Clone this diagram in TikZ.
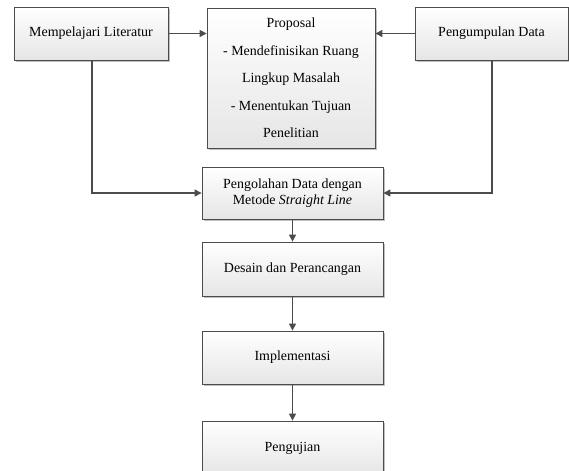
\documentclass[tikz,border=0pt]{standalone}
\usepackage{fontspec}
\setmainfont{Liberation Serif}
\usetikzlibrary{arrows.meta,shadows}
\tikzset{
  flowbox/.style={draw=black!70, line width=0.8bp, top color=white, bottom color=black!10,
    drop shadow={shadow xshift=2bp, shadow yshift=-2bp, fill=black!25, opacity=1},
    inner sep=0pt, align=center, font=\fontsize{14}{16}\selectfont},
  conn/.style={draw=black!70, line width=1.1bp, -{Triangle[length=7bp,width=7bp]}}
}
\begin{document}
\begin{tikzpicture}[x=1bp,y=-1bp]
\useasboundingbox (0,0) rectangle (569,471);
\clip (0,0) rectangle (569,471);
\node[flowbox, minimum width=154bp, minimum height=53bp] (lit) at (91,33.5) {Mempelajari Literatur};
\node[flowbox, minimum width=168bp, minimum height=140bp, font=\fontsize{14}{27.5}\selectfont] (prop) at (291,78)
  {Proposal\\- Mendefinisikan Ruang\\Lingkup Masalah\\- Menentukan Tujuan\\Penelitian};
\node[flowbox, minimum width=153bp, minimum height=53bp] (peng) at (491.5,33.5) {Pengumpulan Data};
\node[flowbox, minimum width=181bp, minimum height=52bp] (olah) at (292.5,193) {Pengolahan Data dengan\\Metode \textit{Straight Line}};
\node[flowbox, minimum width=181bp, minimum height=54bp] (desain) at (292.5,269) {Desain dan Perancangan};
\node[flowbox, minimum width=181bp, minimum height=53bp] (impl) at (292.5,357.5) {Implementasi};
\node[flowbox, minimum width=181bp, minimum height=54bp] (uji) at (292.5,448) {Pengujian};
\coordinate (litdown) at (92,193);
\coordinate (pengdown) at (492,193);
\draw[conn] (lit.east) -- (prop.west |- lit.east);
\draw[conn] (peng.west) -- (prop.east |- peng.west);
\draw[conn] (lit.south -| litdown) -- (litdown) -- (olah.west);
\draw[conn] (peng.south -| pengdown) -- (pengdown) -- (olah.east);
\draw[conn] (olah.south) -- (desain.north);
\draw[conn] (desain.south) -- (impl.north);
\draw[conn] (impl.south) -- (uji.north);
\end{tikzpicture}
\end{document}
